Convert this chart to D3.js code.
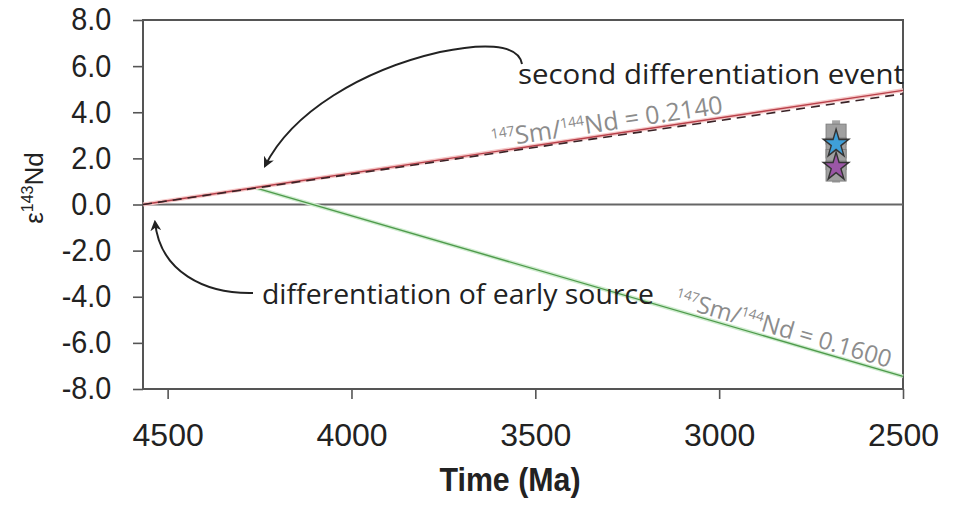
<!DOCTYPE html>
<html>
<head>
<meta charset="utf-8">
<script src="https://cdn.jsdelivr.net/npm/d3@7"></script>
<style>
  html, body { margin: 0; padding: 0; background: #fff; }
  svg { display: block; }
</style>
</head>
<body>
<svg id="chart" width="961" height="505"></svg>
<script>
// ---- data ----
const timeDomain = [4567, 2500];            // Ma
const epsDomain = [-8, 8];
const xTickValues = [4500, 4000, 3500, 3000, 2500];
const yTickValues = [-8, -6, -4, -2, 0, 2, 4, 6, 8];

// evolution lines: [time (Ma), εNd]
const highSmLine = [[4567, 0], [2500, 4.95]];     // 147Sm/144Nd = 0.2140
const modelLine = [[4567, 0], [2500, 4.8]];       // dashed reference
const lowSmLine = [[4263, 0.73], [2500, -7.45]];  // 147Sm/144Nd = 0.1600
const churLine = [[4567, 0], [2500, 0]];

// samples
const sampleAge = 2682;
const grayValues = [3.05, 2.45, 1.95, 1.45];
const grayErrors = [0.6, 0.5, 0.5, 0.5];
const starValues = [2.67, 1.67];

const highSmText = "0.2140";
const lowSmText = "0.1600";

// ---- layout ----
const margin = { left: 143, right: 58, top: 20, bottom: 116 };
const W = 961, H = 505;
const svg = d3.select("#chart");

const x = d3.scaleLinear().domain(timeDomain).range([margin.left, W - margin.right]);
const y = d3.scaleLinear().domain(epsDomain).range([H - margin.bottom, margin.top]);
const line = d3.line().x(d => x(d[0])).y(d => y(d[1]));

const axisColor = "#555";
const tickFont = "'Liberation Sans', Arial, sans-serif";
const noteFont = "'Open Sans', 'Noto Sans', sans-serif";

// arrow marker
const defs = svg.append("defs");
defs.append("marker")
  .attr("id", "arrowhead")
  .attr("viewBox", "0 0 10 10")
  .attr("refX", 8).attr("refY", 5)
  .attr("markerWidth", 5.5).attr("markerHeight", 5.5)
  .attr("markerUnits", "strokeWidth")
  .attr("orient", "auto")
  .append("path").attr("d", "M0,0 L10,5 L0,10 L3,5 Z").attr("fill", "#222");

// ---- axes ----
const xAxis = svg.append("g")
  .attr("transform", `translate(0,${H - margin.bottom})`)
  .call(d3.axisBottom(x).tickValues(xTickValues).tickSize(10).tickSizeOuter(0).tickFormat(d3.format("d")));
xAxis.select(".domain").remove();
xAxis.selectAll(".tick line").attr("stroke", axisColor).attr("stroke-width", 1.6);
xAxis.selectAll(".tick text")
  .attr("font-family", tickFont).attr("font-size", 32).attr("fill", "#222")
  .attr("y", 57).attr("dy", 0);

const yAxis = svg.append("g")
  .attr("transform", `translate(${margin.left},0)`)
  .call(d3.axisLeft(y).tickValues(yTickValues).tickSize(10).tickSizeOuter(0).tickPadding(24).tickFormat(d => d.toFixed(1)));
yAxis.select(".domain").remove();
yAxis.selectAll(".tick line").attr("stroke", axisColor).attr("stroke-width", 1.6);
yAxis.selectAll(".tick text")
  .attr("font-family", tickFont).attr("font-size", 31).attr("fill", "#222")
  .attr("transform", "scale(0.93,1)");

// plot frame
svg.append("rect")
  .attr("x", x(timeDomain[0])).attr("y", y(epsDomain[1]))
  .attr("width", x(timeDomain[1]) - x(timeDomain[0]))
  .attr("height", y(epsDomain[0]) - y(epsDomain[1]))
  .attr("fill", "none").attr("stroke", axisColor).attr("stroke-width", 2);

// CHUR reference at zero
svg.append("path").datum(churLine).attr("d", line)
  .attr("fill", "none").attr("stroke", "#666").attr("stroke-width", 1.8);

// ---- evolution lines ----
svg.append("path").datum(lowSmLine).attr("d", line)
  .attr("fill", "none").attr("stroke", "#cfeccf").attr("stroke-width", 4);
svg.append("path").datum(lowSmLine).attr("d", line)
  .attr("fill", "none").attr("stroke", "#4e9a4b").attr("stroke-width", 1.4);

svg.append("path").datum(highSmLine).attr("d", line)
  .attr("fill", "none").attr("stroke", "#f6c9c9").attr("stroke-width", 4);
svg.append("path").datum(highSmLine).attr("d", line)
  .attr("fill", "none").attr("stroke", "#b8404a").attr("stroke-width", 1.4);
svg.append("path").datum(modelLine).attr("d", line)
  .attr("fill", "none").attr("stroke", "#3a2226").attr("stroke-width", 1.6)
  .attr("stroke-dasharray", "9,6");

// ---- samples ----
const sx = x(sampleAge);
const samples = svg.append("g");
samples.selectAll("line.err").data(grayValues).join("line")
  .attr("x1", sx).attr("x2", sx)
  .attr("y1", (d, i) => y(d + grayErrors[i]))
  .attr("y2", (d, i) => y(d - grayErrors[i]))
  .attr("stroke", "#a5a5a5").attr("stroke-width", 8);
samples.selectAll("rect.pt").data(grayValues).join("rect")
  .attr("x", sx - 10).attr("y", d => y(d) - 10)
  .attr("width", 20).attr("height", 20)
  .attr("fill", "#a0a0a0").attr("stroke", "#808080").attr("stroke-width", 1);
const starColors = ["#3f9fd8", "#9b57a6"];
samples.selectAll("path.star").data(starValues).join("path")
  .attr("d", d3.symbol().type(d3.symbolStar).size(200))
  .attr("transform", d => `translate(${sx},${y(d) + 1}) scale(1,1.1)`)
  .attr("fill", (d, i) => starColors[i])
  .attr("stroke", "#333").attr("stroke-width", 1.4);

// ---- ratio labels along the lines ----
function ratioLabel(seg, t, text, offset, size) {
  const [p0, p1] = seg;
  const v = p0[1] + (p1[1] - p0[1]) * (t - p0[0]) / (p1[0] - p0[0]);
  const ang = Math.atan2(y(p1[1]) - y(p0[1]), x(p1[0]) - x(p0[0])) * 180 / Math.PI;
  const g = svg.append("g")
    .attr("transform", `translate(${x(t)},${y(v)}) rotate(${ang})`);
  const tx = g.append("text")
    .attr("y", offset).attr("text-anchor", "middle")
    .attr("font-family", noteFont).attr("font-size", size).attr("fill", "#8c8c8c");
  tx.append("tspan").attr("font-size", size * 0.56).attr("dy", -9).text("147");
  tx.append("tspan").attr("dy", 9).text("Sm/");
  tx.append("tspan").attr("font-size", size * 0.56).attr("dy", -9).text("144");
  tx.append("tspan").attr("dy", 9).text("Nd = " + text);
}
ratioLabel(highSmLine, 3300, highSmText, -4, 25);
ratioLabel(lowSmLine, 2835, lowSmText, -4, 24);

// ---- annotations ----
svg.append("text")
  .attr("x", 518).attr("y", 84)
  .attr("font-family", noteFont).attr("font-size", 28).attr("fill", "#222")
  .attr("textLength", 386).attr("lengthAdjust", "spacingAndGlyphs")
  .text("second differentiation event");
svg.append("text")
  .attr("x", 262).attr("y", 304)
  .attr("font-family", noteFont).attr("font-size", 28).attr("fill", "#222")
  .attr("textLength", 392).attr("lengthAdjust", "spacingAndGlyphs")
  .text("differentiation of early source");

svg.append("path")
  .attr("d", "M522,64 C518,42 478,44 440,52 C362,70 292,112 265,166")
  .attr("fill", "none").attr("stroke", "#222").attr("stroke-width", 2)
  .attr("marker-end", "url(#arrowhead)");
svg.append("path")
  .attr("d", "M253,293 C205,294 160,272 155,222")
  .attr("fill", "none").attr("stroke", "#222").attr("stroke-width", 2)
  .attr("marker-end", "url(#arrowhead)");

// ---- axis titles ----
svg.append("text")
  .attr("x", 510).attr("y", 491).attr("text-anchor", "middle")
  .attr("font-family", tickFont).attr("font-weight", "bold").attr("font-size", 33)
  .attr("fill", "#222")
  .attr("transform", "translate(510,0) scale(0.92,1) translate(-510,0)")
  .text("Time (Ma)");

const yTitle = svg.append("text")
  .attr("transform", "translate(43,188) rotate(-90)")
  .attr("text-anchor", "middle")
  .attr("font-family", tickFont).attr("font-size", 26).attr("fill", "#222");
yTitle.append("tspan").text("ε");
yTitle.append("tspan").attr("font-size", 16).attr("dy", -10).text("143");
yTitle.append("tspan").attr("dy", 10).text("Nd");
</script>
</body>
</html>
